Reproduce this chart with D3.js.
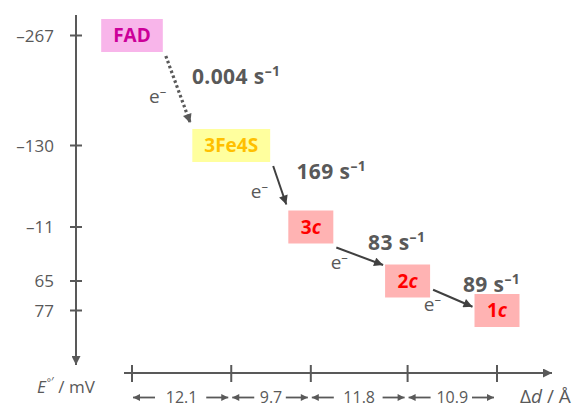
<!DOCTYPE html>
<html><head><meta charset="utf-8">
<script src="https://cdn.jsdelivr.net/npm/d3@7"></script>
<style>html,body{margin:0;padding:0;background:#fff}svg{display:block}</style>
</head><body>
<svg id="c" width="573" height="408"></svg>
<script>
// ---- data ----
const sites = ["FAD", "3Fe4S", "3c", "2c", "1c"];
const potentials = [-267, -130, -11, 65, 77];          // E°' / mV
const yTickLabels = ["\u2013267", "\u2013130", "\u201311", "65", "77"];
const distances = [12.1, 9.7, 11.8, 10.9];             // Δd / Å between sites
const distanceLabels = ["12.1", "9.7", "11.8", "10.9"];
const rates = ["0.004", "169", "83", "89"];            // s^-1
const dottedTransfer = [true, false, false, false];

// ---- styles ----
const font = "'Open Sans', 'Noto Sans', sans-serif";
const gray = "#595959";
const boxStyle = {
  "FAD":   {fill: "#F8B5EA", text: "#CC0099"},
  "3Fe4S": {fill: "#FFFF9E", text: "#FFC000"},
  "3c":    {fill: "#FFB3B3", text: "#FF0000"},
  "2c":    {fill: "#FFB3B3", text: "#FF0000"},
  "1c":    {fill: "#FFB3B3", text: "#FF0000"}
};

const svg = d3.select("#c");
const cum = [0];
distances.forEach((d, i) => cum.push(+(cum[i] + d).toFixed(2)));

// scales
const x = d3.scaleLinear().domain([0, d3.sum(distances)]).range([132, 497]);
// schematic (non-uniform) energy axis
const y = d3.scaleLinear().domain(potentials).range([35.5, 145.5, 227, 281, 310.5]);

const axisX = 76, axisY = 373;

// markers
const defs = svg.append("defs");
function marker(id, w, h, color) {
  defs.append("marker").attr("id", id).attr("markerUnits", "userSpaceOnUse")
    .attr("viewBox", "0 0 10 10").attr("refX", 10).attr("refY", 5)
    .attr("markerWidth", w).attr("markerHeight", h).attr("orient", "auto")
    .append("path").attr("d", "M0,0 L10,5 L0,10 z").attr("fill", color);
}
marker("ah", 10, 9, "#404040");
marker("ahg", 10, 9, gray);
marker("ahs", 8, 7, gray);

// ---- y axis ----
svg.append("line").attr("x1", axisX).attr("x2", axisX).attr("y1", 15).attr("y2", 365)
  .attr("stroke", gray).attr("stroke-width", 2).attr("marker-end", "url(#ahg)");
const yt = svg.append("g");
potentials.forEach((p, i) => {
  yt.append("line").attr("x1", axisX - 6).attr("x2", axisX + 6).attr("y1", y(p)).attr("y2", y(p))
    .attr("stroke", gray).attr("stroke-width", 2);
  yt.append("text").attr("x", 54).attr("y", y(p)).attr("dy", "0.36em").attr("text-anchor", "end")
    .attr("font-family", font).attr("font-size", 17).attr("fill", gray).text(yTickLabels[i]);
});
const eLab = svg.append("text").attr("x", 37).attr("y", 393).attr("font-family", font)
  .attr("font-size", 17).attr("fill", gray);
eLab.append("tspan").attr("font-style", "italic").text("E");
eLab.append("tspan").attr("font-size", 10).attr("dy", -7).attr("dx", 1).text("\u00B0");
eLab.append("tspan").attr("font-size", 12).attr("dy", 0).text("\u2032");
eLab.append("tspan").attr("dy", 7).text(" / mV");

// ---- x axis ----
svg.append("line").attr("x1", 124).attr("x2", 552).attr("y1", axisY).attr("y2", axisY)
  .attr("stroke", gray).attr("stroke-width", 2).attr("marker-end", "url(#ahg)");
cum.forEach(c => {
  svg.append("line").attr("x1", x(c)).attr("x2", x(c)).attr("y1", axisY - 8).attr("y2", axisY + 9)
    .attr("stroke", gray).attr("stroke-width", 2);
});
distances.forEach((d, i) => {
  const a = x(cum[i]), b = x(cum[i + 1]);
  svg.append("text").attr("x", (a + b) / 2).attr("y", 403).attr("text-anchor", "middle")
    .attr("font-family", font).attr("font-size", 16).attr("fill", gray).text(distanceLabels[i]);
  svg.append("line").attr("x1", a + 23).attr("x2", a + 1).attr("y1", 397.5).attr("y2", 397.5)
    .attr("stroke", gray).attr("stroke-width", 1.8).attr("marker-end", "url(#ahs)");
  svg.append("line").attr("x1", b - 25).attr("x2", b - 3).attr("y1", 397.5).attr("y2", 397.5)
    .attr("stroke", gray).attr("stroke-width", 1.8).attr("marker-end", "url(#ahs)");
});
const dLab = svg.append("text").attr("x", 520).attr("y", 403).attr("font-family", font)
  .attr("font-size", 19).attr("fill", gray);
dLab.append("tspan").text("\u0394");
dLab.append("tspan").attr("font-style", "italic").text("d");
dLab.append("tspan").text(" / \u00C5");

// ---- site boxes ----
const boxH = 33;
const boxes = sites.map((s, i) => {
  const g = svg.append("g");
  const t = g.append("text").attr("x", x(cum[i])).attr("y", y(potentials[i])).attr("dy", "0.36em")
    .attr("text-anchor", "middle").attr("font-family", font).attr("font-weight", "bold")
    .attr("font-size", 19).attr("fill", boxStyle[s].text);
  const m = s.match(/^(\d)(c)$/);
  if (m) { t.append("tspan").text(m[1]); t.append("tspan").attr("font-style", "italic").text(m[2]); }
  else t.text(s);
  const tw = t.node().getComputedTextLength();
  const w = Math.max(45, tw + 24);
  const cx = x(cum[i]), cy = y(potentials[i]);
  g.insert("rect", "text").attr("x", cx - w / 2).attr("y", cy - boxH / 2).attr("width", w)
    .attr("height", boxH).attr("fill", boxStyle[s].fill);
  return {cx, cy, l: cx - w / 2, r: cx + w / 2, t: cy - boxH / 2, b: cy + boxH / 2};
});

// ---- electron transfer arrows ----
rates.forEach((r, i) => {
  const A = boxes[i], B = boxes[i + 1];
  const midY = (A.cy + B.cy) / 2;
  const x1 = A.r + 3, y1 = Math.min(A.b + 4, midY - 6);
  const x2 = B.l - 2, y2 = Math.max(B.t - 6, midY + 11);
  const ln = svg.append("line").attr("x1", x1).attr("y1", y1).attr("x2", x2).attr("y2", y2);
  if (dottedTransfer[i]) {
    ln.attr("stroke", gray).attr("stroke-width", 3.2).attr("stroke-dasharray", "2.6,2.6")
      .attr("marker-end", "url(#ahg)");
  } else {
    ln.attr("stroke", "#404040").attr("stroke-width", 2).attr("marker-end", "url(#ah)");
  }
  const mx = (x1 + x2) / 2, my = (y1 + y2) / 2;
  const rl = svg.append("text").attr("x", (x1 + mx) / 2 + 20).attr("y", my - 6).attr("font-family", font)
    .attr("font-weight", "bold").attr("font-size", 21).attr("letter-spacing", 0.4).attr("fill", gray);
  rl.append("tspan").text(r + " s");
  rl.append("tspan").attr("font-size", 14).attr("dy", -8).text("\u20131");
  const el = svg.append("text").attr("x", mx - 29).attr("y", my + 13).attr("font-family", font)
    .attr("font-size", 19).attr("fill", gray);
  el.append("tspan").text("e");
  el.append("tspan").attr("font-size", 13).attr("dy", -7).text("\u2013");
});
</script>
</body></html>
